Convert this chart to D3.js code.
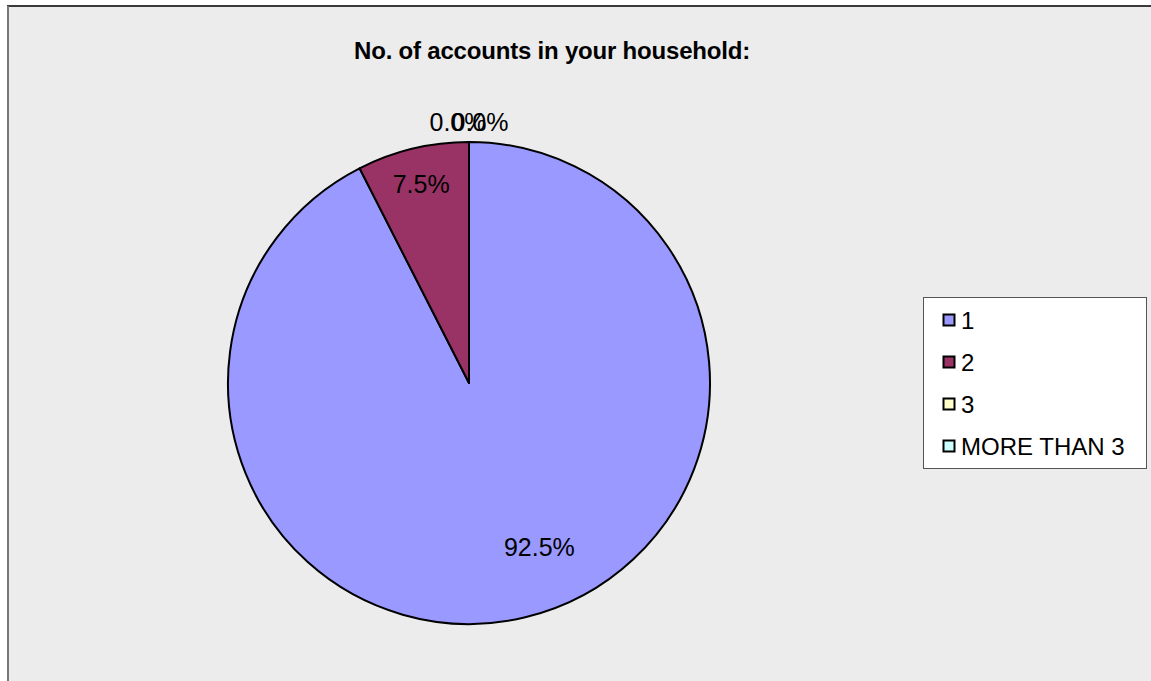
<!DOCTYPE html>
<html>
<head>
<meta charset="utf-8">
<script src="https://cdn.jsdelivr.net/npm/d3@7"></script>
<style>
  html, body { margin: 0; padding: 0; background: #ffffff; }
  svg { display: block; font-family: "Liberation Sans", Arial, sans-serif; }
</style>
</head>
<body>
<svg id="chart" width="1151" height="681"></svg>
<script>
// Answers to "No. of accounts in your household:" (share of respondents, %)
const categories = ["1", "2", "3", "MORE THAN 3"];
const values = [92.5, 7.5, 0.0, 0.0];
const colors = ["#9999FF", "#993366", "#FFFFCC", "#CCFFFF"];
const title = "No. of accounts in your household:";

const W = 1151, H = 681;
const svg = d3.select("#chart");

// plot area panel
svg.append("rect")
  .attr("x", 8).attr("y", 6)
  .attr("width", W).attr("height", H)
  .attr("fill", "#ECECEC")
  .attr("stroke", "#3a3a3a").attr("stroke-width", 2);
svg.append("line")
  .attr("x1", 8).attr("x2", 8).attr("y1", 6).attr("y2", H)
  .attr("stroke", "#777").attr("stroke-width", 2);

svg.append("text")
  .attr("x", 552).attr("y", 59)
  .attr("text-anchor", "middle")
  .attr("font-size", 24).attr("font-weight", "bold")
  .attr("letter-spacing", -0.2)
  .attr("fill", "#000")
  .text(title);

const cx = 469, cy = 383, r = 241;
const data = categories.map((c, i) => ({ cat: c, value: values[i], color: colors[i] }));

const pie = d3.pie().sort(null).value(d => d.value);
const arcs = pie(data);
const arc = d3.arc().innerRadius(0).outerRadius(r);

const g = svg.append("g").attr("transform", `translate(${cx},${cy})`);

g.selectAll("path.slice")
  .data(arcs.filter(a => a.data.value > 0))
  .join("path")
  .attr("class", "slice")
  .attr("d", arc)
  .attr("fill", d => d.data.color)
  .attr("stroke", "#000")
  .attr("stroke-width", 2)
  .attr("stroke-linejoin", "round");

// labels: inside for non-empty slices, just outside the rim for empty ones
const fmt = d => d.toFixed(1) + "%";
const zeroArcs = arcs.filter(a => a.data.value === 0);
const insideFactor = d => d.data.value > 50 ? 0.74 : 0.85;
// large slices get their label swung a little toward the slice start
const angleBias = d => d.data.value > 50 ? -0.17 : 0;

g.selectAll("text.lbl")
  .data(arcs)
  .join("text")
  .attr("class", "lbl")
  .attr("transform", d => {
    const mid = (d.startAngle + d.endAngle) / 2 + angleBias(d);
    if (d.data.value === 0) {
      const k = zeroArcs.indexOf(d);
      const spread = (k - (zeroArcs.length - 1) / 2) * 22;
      const rr = r + 20;
      return `translate(${Math.sin(mid) * rr + spread},${-Math.cos(mid) * rr})`;
    }
    const rr = r * insideFactor(d);
    return `translate(${Math.sin(mid) * rr},${-Math.cos(mid) * rr})`;
  })
  .attr("text-anchor", "middle")
  .attr("dy", "0.36em")
  .attr("font-size", 25)
  .attr("fill", "#000")
  .text(d => fmt(d.data.value));

// legend
const lg = svg.append("g");
lg.append("rect")
  .attr("x", 923.5).attr("y", 297.5)
  .attr("width", 223).attr("height", 171)
  .attr("fill", "#fff")
  .attr("stroke", "#555").attr("stroke-width", 1);

const ly = d3.scalePoint().domain(categories).range([320, 446]);
const items = lg.selectAll("g.item").data(data).join("g")
  .attr("class", "item")
  .attr("transform", d => `translate(943,${ly(d.cat)})`);
items.append("rect")
  .attr("x", 0.5).attr("y", -5.5)
  .attr("width", 11).attr("height", 11)
  .attr("fill", d => d.color)
  .attr("stroke", "#000").attr("stroke-width", 2);
items.append("text")
  .attr("x", 18).attr("dy", "0.36em")
  .attr("font-size", 24)
  .attr("fill", "#000")
  .text(d => d.cat);
</script>
</body>
</html>
